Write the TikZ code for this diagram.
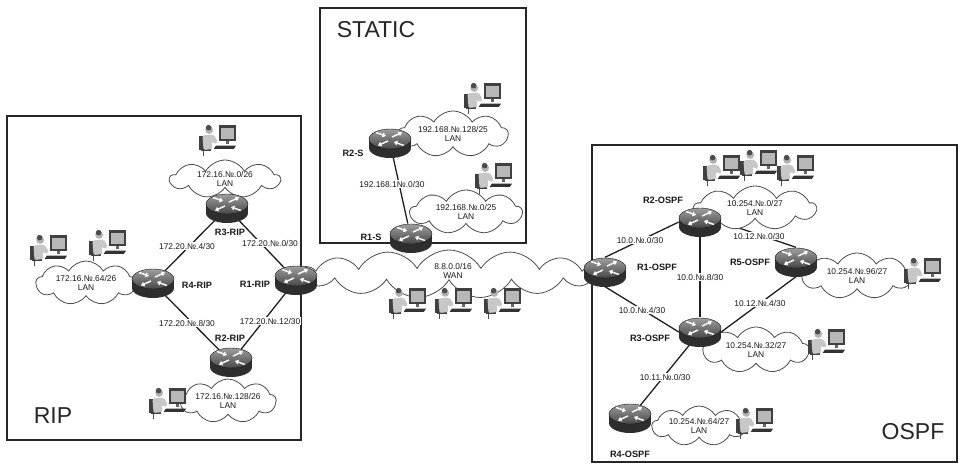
\documentclass[tikz,border=0pt]{standalone}
\usepackage{fontspec}
\setmainfont{Liberation Sans}
\usetikzlibrary{shapes.symbols,shapes.geometric,arrows.meta}
\newcommand\lblf{\fontsize{8.4}{9.6}\selectfont}
\newcommand\rnamef{\fontsize{9.2}{10}\selectfont\bfseries}
\newcommand\bigf{\fontsize{23}{26}\selectfont}
\tikzset{
  boxs/.style={draw=black!85, line width=1.6pt},
  rnode/.style={ellipse, minimum width=42pt, minimum height=29pt, inner sep=0pt},
  link/.style={draw=black!88, line width=1.3pt},
  lan/.style={cloud, cloud puffs=9, cloud puff arc=120, cloud ignores aspect, draw=black!70, fill=white, line width=0.8pt, inner sep=0pt},
  lantxt/.style={align=center, font=\lblf, inner sep=0pt, text=black!90},
  lbl/.style={fill=white, inner sep=0.8pt, font=\lblf, text=black!90},
  rname/.style={font=\rnamef, inner sep=0pt, text=black!90},
  title/.style={font=\bigf, inner sep=0pt, text=black!85},
  rarr/.style={white, line width=1.4pt, -{Triangle[length=3.4pt,width=4.8pt]}},
  pics/router/.style={code={
    \fill[black!82] (0,5) ellipse [x radius=21pt, y radius=10pt];
    \fill[black!82] (-21,-4) rectangle (21,5);
    \shade[top color=black!38, bottom color=black!72] (0,-4) ellipse [x radius=21pt, y radius=10pt];
    \draw[black!90, line width=0.4pt] (0,-4) ellipse [x radius=21pt, y radius=10pt];
    \draw[rarr] (2,-6) -- (12,-10.5);
    \draw[rarr] (-2,-2) -- (-12,2.5);
    \draw[rarr] (-14,-10.5) -- (-4,-7);
    \draw[rarr] (14,2.5) -- (4,-1);
  }},
  pics/pc/.style={code={
    \begin{scope}[scale=1.12]
    \fill[black!75] (-16,-4) rectangle (-12,9);
    \fill[black!75] (-14,8) rectangle (-5,10);
    \draw[black!70, line width=1pt] (-12,10) -- (-12,14);
    \fill[black!22, rounded corners=2pt] (-13,-4) -- (-3,-5) -- (1,2) -- (-2,4) -- (-5,1) -- (-4,8) -- (-12,9) -- cycle;
    \fill[black!30] (-7,-9) circle (3.5pt);
    \fill[black!70] (-7.5,-11) circle (2.5pt);
    \fill[black!75] (2,-13) rectangle (17,1);
    \fill[black!28] (4,-11) rectangle (15,-1);
    \fill[black!60] (8,1) rectangle (11,4);
    \fill[black!80] (-1,5) -- (17,5) -- (15,8) -- (-3,8) -- cycle;
    \end{scope}
  }},
}
\begin{document}
\begin{tikzpicture}[x=1pt,y=-1pt]
\useasboundingbox[fill=white] (0,0) rectangle (964,465);

% boxes
\draw[boxs] (7,116) rectangle (301,440);
\draw[boxs] (320,8) rectangle (526,243);
\draw[boxs] (592,145) rectangle (957,462);
\node[title] (tRIP) at (53,416) {RIP};
\node[title] (tSTATIC) at (376,30) {STATIC};
\node[title] (tOSPF) at (913,432) {OSPF};

% router anchors
\node[rnode] (r3rip) at (227,208) {};
\node[rnode] (r4rip) at (153,283) {};
\node[rnode] (r1rip) at (296,280) {};
\node[rnode] (r2rip) at (231,362) {};
\node[rnode] (r2s) at (390,143) {};
\node[rnode] (r1s) at (411,238) {};
\node[rnode] (r1o) at (605,272) {};
\node[rnode] (r2o) at (700,222) {};
\node[rnode] (r3o) at (700,332) {};
\node[rnode] (r4o) at (630,418) {};
\node[rnode] (r5o) at (796,262) {};

% links
\draw[link] (r3rip) -- (r4rip);
\draw[link] (r3rip) -- (r1rip);
\draw[link] (r4rip) -- (r2rip);
\draw[link] (r1rip) -- (r2rip);
\draw[link] (r2s) -- (r1s);
\draw[link] (r1o.north) -- (r2o.west);
\draw[link] (r1o.south) -- (r3o.west);
\draw[link] (r2o.east) -- (r5o.north);
\draw[link] (r2o) -- (r3o);
\draw[link] (r5o.south) -- (r3o.east);
\draw[link] (r3o) -- (r4o);

% clouds
\node[lan, minimum width=110pt, minimum height=38pt] (c1) at (225,179) {};
\node[lantxt] at (c1) {172.16.№.0/26\\LAN};
\node[lan, minimum width=100pt, minimum height=44pt] (c2) at (86,283) {};
\node[lantxt] at (c2) {172.16.№.64/26\\LAN};
\node[lan, minimum width=96pt, minimum height=44pt] (c3) at (228,401) {};
\node[lantxt] at (c3) {172.16.№.128/26\\LAN};
\node[lan, minimum width=110pt, minimum height=46pt] (c4) at (453,134) {};
\node[lantxt] at (c4) {192.168.№.128/25\\LAN};
\node[lan, minimum width=112pt, minimum height=44pt] (c5) at (466,212) {};
\node[lantxt] at (c5) {192.168.№.0/25\\LAN};
\node[lan, cloud puffs=15, minimum width=302pt, minimum height=48pt] (wan) at (449,274) {};
\node[lantxt] at (453,271) {8.8.0.0/16\\WAN};
\node[lan, minimum width=122pt, minimum height=44pt] (c6) at (755,208) {};
\node[lantxt] at (c6) {10.254.№.0/27\\LAN};
\node[lan, minimum width=110pt, minimum height=46pt] (c7) at (857,276) {};
\node[lantxt] at (c7) {10.254.№.96/27\\LAN};
\node[lan, minimum width=106pt, minimum height=46pt] (c8) at (756,350) {};
\node[lantxt] at (c8) {10.254.№.32/27\\LAN};
\node[lan, minimum width=94pt, minimum height=40pt] (c9) at (699,426) {};
\node[lantxt] at (c9) {10.254.№.64/27\\LAN};

% routers
\foreach \r in {r3rip,r4rip,r1rip,r2rip,r2s,r1s,r1o,r2o,r3o,r4o,r5o}
  \pic at (\r) {router};

% PCs
\foreach \p in {(217,140),(48,250),(107,245),(167,403),(482,98),(493,178),(407,303),(453,303),(502,303),(721,170),(758,165),(795,170),(922,273),(826,344),(754,423)}
  \pic at \p {pc};

% router names
\node[rname] (n1) at (230,232) {R3-RIP};
\node[rname] (n2) at (197,285) {R4-RIP};
\node[rname] (n3) at (255,284) {R1-RIP};
\node[rname] (n4) at (230,338) {R2-RIP};
\node[rname] (n5) at (353,153) {R2-S};
\node[rname] (n6) at (371,237) {R1-S};
\node[rname] (n7) at (663,200) {R2-OSPF};
\node[rname] (n8) at (657,267) {R1-OSPF};
\node[rname] (n9) at (750,262) {R5-OSPF};
\node[rname] (n10) at (650,338) {R3-OSPF};
\node[rname] (n11) at (630,454) {R4-OSPF};

% link labels
\node[lbl] (l1) at (187,246) {172.20.№.4/30};
\node[lbl] (l2) at (270,243) {172.20.№.0/30};
\node[lbl] (l3) at (187,323) {172.20.№.8/30};
\node[lbl] (l4) at (270,321) {172.20.№.12/30};
\node[lbl] (l5) at (392,184) {192.168.1№.0/30};
\node[lbl] (l6) at (640,240) {10.0.№.0/30};
\node[lbl] (l7) at (759,236) {10.12.№.0/30};
\node[lbl] (l8) at (700,277) {10.0.№.8/30};
\node[lbl] (l9) at (642,310) {10.0.№.4/30};
\node[lbl] (l10) at (760,303) {10.12.№.4/30};
\node[lbl] (l11) at (665,377) {10.11.№.0/30};
\end{tikzpicture}
\end{document}
